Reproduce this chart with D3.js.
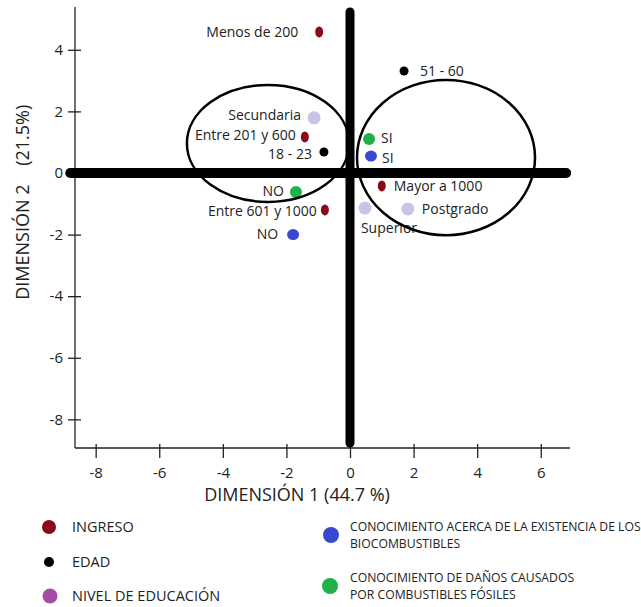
<!DOCTYPE html>
<html>
<head>
<meta charset="utf-8">
<script src="https://cdn.jsdelivr.net/npm/d3@7"></script>
<style>
html,body{margin:0;padding:0;background:#fff;}
svg{display:block;}
text{font-family:"Open Sans","Lato",sans-serif;}
</style>
</head>
<body>
<svg id="chart" width="641" height="607"></svg>
<script>
// ---------------- DATA ----------------
const labels = ["Menos de 200","51 - 60","Secundaria","Entre 201 y 600","18 - 23","SI","SI",
  "Mayor a 1000","NO","Entre 601 y 1000","Superior","Postgrado","NO"];
const dim1 = [-0.97, 1.70, -1.13, -1.42, -0.82, 0.60, 0.66, 1.00, -1.70, -0.79, 0.47, 1.82, -1.79];
const dim2 = [4.58, 3.31, 1.79, 1.17, 0.68, 1.10, 0.55, -0.42, -0.62, -1.20, -1.14, -1.17, -2.00];
const group = ["ingreso","edad","educacion","ingreso","edad","danos","conocimiento",
  "ingreso","danos","ingreso","educacion","educacion","conocimiento"];

const xTicks = [-8,-6,-4,-2,0,2,4,6];
const yTicks = [4,2,0,-2,-4,-6,-8];

const ellipseCx = [-2.58, 3.02];
const ellipseCy = [0.96, 0.50];
const ellipseRx = [2.55, 2.80];
const ellipseRy = [1.90, 2.52];

const legendKeys = ["ingreso","edad","educacionLegend","conocimiento","danos"];
const legendLabels = [["INGRESO"],["EDAD"],["NIVEL DE EDUCACIÓN"],
  ["CONOCIMIENTO ACERCA DE LA EXISTENCIA DE LOS","BIOCOMBUSTIBLES"],
  ["CONOCIMIENTO DE DAÑOS CAUSADOS","POR COMBUSTIBLES FÓSILES"]];

const xTitle = "DIMENSIÓN 1 (44.7 %)";
const yTitle = "DIMENSIÓN 2    (21.5%)";

// ---------------- STYLE / LAYOUT ----------------
const colors = {ingreso:"#8b0a1a", edad:"#000000", educacion:"#c9c3e8", educacionLegend:"#a64ca6",
  conocimiento:"#3a48d0", danos:"#22b04a"};
// label placement in px relative to marker
const labelDx = [-21, 16, -13, -9, -12, 12, 11, 12, -12, -8, -4, 14, -15];
const labelDy = [0, 0, -3, -1.5, 2.5, -1.5, 2, 0, -1, 1, 20, 0, 0];
const labelAnchor = ["end","start","end","end","end","start","start","start","end","end","start","start","end"];

const svg = d3.select("#chart");
const x = d3.scaleLinear().domain([-8.65, 6.92]).range([75, 570]);
const y = d3.scaleLinear().domain([-8.93, 5.39]).range([448, 7]);

// Axes
const fmt = d => String(d);
const yAxis = d3.axisLeft(y).tickValues(yTicks).tickFormat(fmt).tickSizeInner(7).tickSizeOuter(0).tickPadding(5);
const gy = svg.append("g").attr("transform", `translate(${x.range()[0]},0)`).call(yAxis);
gy.selectAll(".tick line").attr("x2", -7).attr("x1", 6);
const xAxis = d3.axisBottom(x).tickValues(xTicks).tickFormat(fmt).tickSizeInner(10).tickSizeOuter(0).tickPadding(9);
const gx = svg.append("g").attr("transform", `translate(0,${y.range()[0]})`).call(xAxis);
gx.selectAll(".tick line").attr("y1", -4).attr("y2", 10);
[gx, gy].forEach(g => {
  g.select(".domain").attr("stroke", "#222").attr("stroke-width", 1.3);
  g.selectAll(".tick line").attr("stroke", "#222").attr("stroke-width", 1.3);
  g.selectAll(".tick text").attr("font-size", 15).attr("fill", "#222").attr("font-family", "Open Sans, sans-serif");
});
gy.select(".domain").attr("d", `M0,${y.range()[1]}V${y.range()[0]}H0`);
gx.select(".domain").attr("d", `M${x.range()[0]},0H${x.range()[1]}`);

// Axis titles
svg.append("text").attr("x", 297).attr("y", 501).attr("text-anchor", "middle")
  .attr("font-size", 18).attr("fill", "#222").text(xTitle);
svg.append("text").attr("transform", `translate(29,${y(-0.95)}) rotate(-90)`).attr("text-anchor", "middle")
  .attr("font-size", 18).attr("fill", "#222").style("white-space","pre").text(yTitle);

// Thick zero lines
svg.append("line").attr("x1", x(-8.8)).attr("x2", x(6.8)).attr("y1", y(0)).attr("y2", y(0))
  .attr("stroke", "#000").attr("stroke-width", 10).attr("stroke-linecap", "round");
svg.append("line").attr("x1", x(0)).attr("x2", x(0)).attr("y1", y(5.23)).attr("y2", y(-8.77))
  .attr("stroke", "#000").attr("stroke-width", 9).attr("stroke-linecap", "round");

// Point labels
const idx = d3.range(labels.length);
svg.append("g").selectAll("text").data(idx).join("text")
  .attr("x", i => x(dim1[i]) + labelDx[i])
  .attr("y", i => y(dim2[i]) + labelDy[i])
  .attr("dy", "0.35em")
  .attr("text-anchor", i => labelAnchor[i])
  .attr("font-size", 14).attr("fill", "#222")
  .text(i => labels[i]);

// Points
const markerR = {ingreso:[4,5.5], edad:[4.5,4.5], educacion:[6.5,6.5], conocimiento:[6,5.5], danos:[6,6]};
svg.append("g").selectAll("ellipse").data(idx).join("ellipse")
  .attr("cx", i => x(dim1[i])).attr("cy", i => y(dim2[i]))
  .attr("rx", i => markerR[group[i]][0]).attr("ry", i => markerR[group[i]][1])
  .attr("fill", i => colors[group[i]]);

// Ellipses
svg.append("g").selectAll("ellipse").data(ellipseCx).join("ellipse")
  .attr("cx", (d, i) => x(ellipseCx[i])).attr("cy", (d, i) => y(ellipseCy[i]))
  .attr("rx", (d, i) => x(ellipseRx[i]) - x(0)).attr("ry", (d, i) => y(0) - y(ellipseRy[i]))
  .attr("fill", "none").attr("stroke", "#000").attr("stroke-width", 2.5);

// Legend
const legPos = [[49,527,7,72,14.5],[49,562,5,72,14.5],[50,596,7.5,72,14.5],[331,535,8,350,12.2],[330,586,8,350,12.2]];
legendKeys.forEach((k, i) => {
  const [cx, cy, r, tx, fs] = legPos[i];
  svg.append("circle").attr("cx", cx).attr("cy", cy).attr("r", r).attr("fill", colors[k]);
  const lines = legendLabels[i];
  const lh = 17;
  const t = svg.append("text").attr("font-size", fs).attr("fill", "#222");
  lines.forEach((ln, j) => {
    t.append("tspan").attr("x", tx).attr("y", cy + (j - (lines.length - 1) / 2) * lh).attr("dy", "0.35em").text(ln);
  });
});
</script>
</body>
</html>
